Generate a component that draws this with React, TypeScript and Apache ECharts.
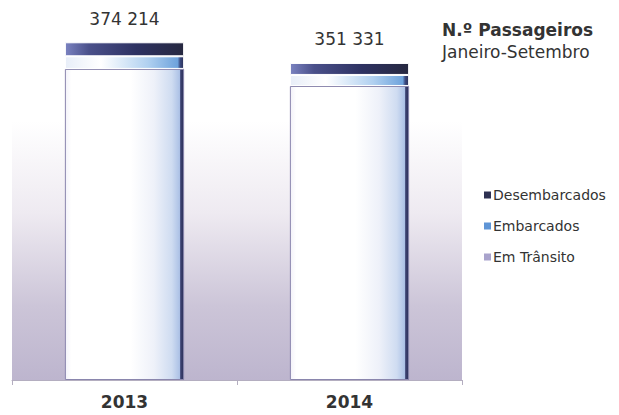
import React, { useEffect, useRef } from "react";
import * as echarts from "echarts";

const years = ["2013", "2014"];
const desembarcados = [15500, 13300];
const embarcados = [14000, 12200];
const emTransito = [344714, 325831];

const fmt = (n: number) => String(n).replace(/\B(?=(\d{3})+(?!\d))/g, " ");

export default function App() {
  const ref = useRef<HTMLDivElement>(null);
  useEffect(() => {
    if (!ref.current) return;
    const chart = echarts.init(ref.current, null, { renderer: "svg" });
    const LG = echarts.graphic.LinearGradient;
    const totals = years.map((_, i) => desembarcados[i] + embarcados[i] + emTransito[i]);
    const font = "DejaVu Sans";
    chart.setOption({
      animation: false,
      backgroundColor: "#ffffff",
      textStyle: { fontFamily: font },
      title: {
        text: "N.º Passageiros",
        subtext: "Janeiro-Setembro",
        left: 442,
        top: 21,
        itemGap: 5,
        padding: 0,
        textStyle: { fontFamily: font, fontSize: 17, fontWeight: "bold", color: "#333" },
        subtextStyle: { fontFamily: font, fontSize: 17, color: "#333" },
      },
      legend: {
        orient: "vertical",
        left: 484,
        top: 188,
        itemWidth: 7,
        itemHeight: 7,
        itemGap: 17,
        padding: 0,
        itemStyle: { borderWidth: 0 },
        textStyle: { fontFamily: font, fontSize: 14, color: "#333", padding: [0, 0, 0, -3] },
        data: [
          { name: "Desembarcados", icon: "rect", itemStyle: { color: "#2e3152", borderWidth: 0 } },
          { name: "Embarcados", icon: "rect", itemStyle: { color: "#5f95d6", borderWidth: 0 } },
          { name: "Em Trânsito", icon: "rect", itemStyle: { color: "#a9a3cc", borderWidth: 0 } },
        ],
      },
      grid: {
        left: 12,
        right: 157,
        top: 10,
        bottom: 35,
        show: true,
        borderWidth: 0,
        backgroundColor: new LG(0, 0, 0, 1, [
          { offset: 0, color: "#ffffff" },
          { offset: 0.3, color: "#ffffff" },
          { offset: 0.55, color: "#eeeaf1" },
          { offset: 0.8, color: "#ccc5d8" },
          { offset: 1, color: "#bdb5ce" },
        ]),
      },
      xAxis: {
        type: "category",
        data: years,
        axisLine: { lineStyle: { color: "#b4aec0", width: 1 } },
        axisTick: { show: true, length: 5, lineStyle: { color: "#b4aec0" } },
        axisLabel: { fontFamily: font, fontSize: 17, fontWeight: "bold", color: "#333", margin: 13 },
      },
      yAxis: { type: "value", min: 0, max: 410000, show: false, splitLine: { show: false } },
      series: [
        {
          name: "Em Trânsito",
          type: "bar",
          stack: "t",
          barWidth: "53%",
          data: emTransito,
          itemStyle: {
            borderColor: "#8a86ad",
            borderWidth: 1,
            color: new LG(0, 0, 1, 0, [
              { offset: 0, color: "#f3f2f9" },
              { offset: 0.05, color: "#ffffff" },
              { offset: 0.55, color: "#ffffff" },
              { offset: 0.75, color: "#eef1f9" },
              { offset: 0.9, color: "#cfdcf1" },
              { offset: 0.965, color: "#adc2e6" },
              { offset: 0.975, color: "#3c4272" },
              { offset: 1, color: "#2c3058" },
            ]),
          },
        },
        {
          name: "Embarcados",
          type: "bar",
          stack: "t",
          data: embarcados,
          itemStyle: {
            borderColor: "#ffffff",
            borderWidth: 1,
            color: new LG(0, 0, 1, 0, [
              { offset: 0, color: "#e8eef8" },
              { offset: 0.3, color: "#ffffff" },
              { offset: 0.7, color: "#b0d0f0" },
              { offset: 0.95, color: "#6ea3dc" },
              { offset: 0.97, color: "#3a4a80" },
              { offset: 1, color: "#2c3058" },
            ]),
          },
        },
        {
          name: "Desembarcados",
          type: "bar",
          stack: "t",
          data: desembarcados,
          itemStyle: {
            borderColor: "#ffffff",
            borderWidth: 1,
            color: new LG(0, 0, 1, 0, [
              { offset: 0, color: "#7a82c0" },
              { offset: 0.2, color: "#4a508a" },
              { offset: 0.6, color: "#2e3262" },
              { offset: 1, color: "#262840" },
            ]),
          },
          label: {
            show: true,
            position: "top",
            distance: 15,
            fontFamily: font,
            fontSize: 17,
            color: "#333",
            formatter: (p: any) => fmt(totals[p.dataIndex]),
          },
        },
      ],
    });
    return () => chart.dispose();
  }, []);
  return (
    <div
      ref={ref}
      style={{ position: "fixed", left: 0, top: 0, width: 619, height: 415 }}
    />
  );
}
